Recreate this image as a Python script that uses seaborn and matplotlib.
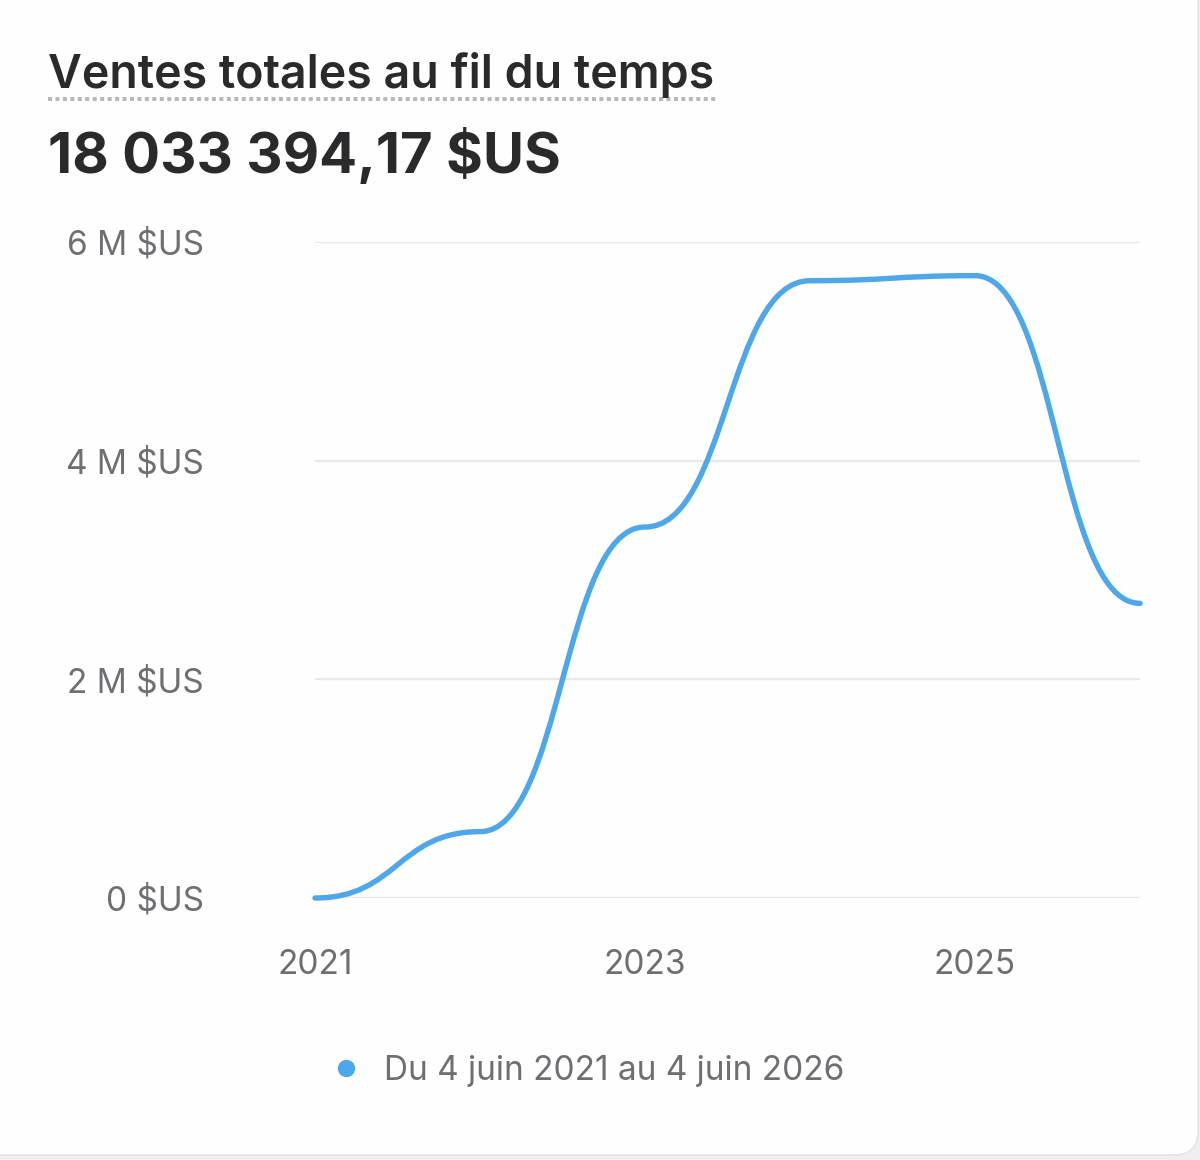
import matplotlib
matplotlib.use("Agg")
import matplotlib.pyplot as plt
import seaborn as sns
from matplotlib.path import Path
from matplotlib.patches import PathPatch, FancyBboxPatch
from matplotlib.lines import Line2D
from matplotlib.ticker import FuncFormatter

# Data (yearly totals, USD)
years = [2021, 2022, 2023, 2024, 2025, 2026]
sales = [0, 607_000, 3_393_000, 5_646_000, 5_692_000, 2_695_000]
x_ticks = [2021, 2023, 2025]
y_ticks = [0, 2_000_000, 4_000_000, 6_000_000]
title = "Ventes totales au fil du temps"
total_label = "18 033 394,17 $US"
legend_label = "Du 4 juin 2021 au 4 juin 2026"

LINE_COLOR = "#4ea7e9"
TEXT_DARK = "#2a2a2c"
TEXT_GREY = "#6e6e73"
GRID = "#e9e9ec"
LABEL_SIZE = 24

sns.set_theme(style="white")
plt.rcParams["font.family"] = ["Inter", "DejaVu Sans"]

W, H = 1200, 1160
fig = plt.figure(figsize=(W / 100, H / 100), dpi=100)
fig.patch.set_facecolor("#efeff1")

# white card behind everything
card = FancyBboxPatch((-40 / W, 1 - 1155 / H), (1198 + 40) / W, (1155 + 40) / H,
                      boxstyle="round,pad=0,rounding_size=0.02",
                      transform=fig.transFigure, facecolor="#fefefe",
                      edgecolor="#e4e4e6", lw=1.2, zorder=-5)
fig.patches.append(card)

ax = fig.add_axes([315 / W, 1 - 898 / H, 825 / W, (898 - 242) / H])
ax.set_facecolor("none")
ax.set_zorder(2)

# smooth "bump" curve: horizontal tangent at every data point
verts = [(years[0], sales[0])]
codes = [Path.MOVETO]
for x0, y0, x1, y1 in zip(years[:-1], sales[:-1], years[1:], sales[1:]):
    xm = (x0 + x1) / 2
    verts += [(xm, y0), (xm, y1), (x1, y1)]
    codes += [Path.CURVE4] * 3
curve = PathPatch(Path(verts, codes), fill=False, edgecolor=LINE_COLOR, lw=3.9,
                  capstyle="round", joinstyle="round", clip_on=False, zorder=3)
ax.add_patch(curve)

ax.set_xlim(years[0], years[-1])
ax.set_ylim(0, 6_000_000)
ax.set_xticks(x_ticks)
ax.set_xticklabels([str(y) for y in x_ticks])
ax.set_yticks(y_ticks)
ax.yaxis.set_major_formatter(FuncFormatter(
    lambda v, _: "0 $US" if v == 0 else f"{int(v / 1e6)} M $US"))
ax.yaxis.grid(True, color=GRID, lw=1.7)
ax.xaxis.grid(False)
ax.set_axisbelow(True)
sns.despine(ax=ax, left=True, bottom=True)
ax.tick_params(axis="y", length=0, pad=80, labelsize=LABEL_SIZE, labelcolor=TEXT_GREY)
ax.tick_params(axis="x", length=0, pad=37, labelsize=LABEL_SIZE, labelcolor=TEXT_GREY)

# header
fig.text(48 / W, 1 - 88 / H, title, fontsize=33.5, fontweight="semibold",
         color=TEXT_DARK, ha="left", va="baseline")
fig.add_artist(Line2D([48 / W, 716 / W], [1 - 99 / H, 1 - 99 / H],
                      transform=fig.transFigure, color="#b8b8bc", lw=2.9,
                      linestyle=(0, (1, 0.85)), solid_capstyle="butt",
                      dash_capstyle="butt"))
fig.text(48 / W, 1 - 173 / H, total_label, fontsize=40.5, fontweight="bold",
         color=TEXT_DARK, ha="left", va="baseline")

# legend
handle = Line2D([], [], marker="o", linestyle="", markersize=11.5,
                markerfacecolor=LINE_COLOR, markeredgecolor=LINE_COLOR)
leg = fig.legend([handle], [legend_label], loc="center",
                 bbox_to_anchor=(587 / W, 1 - 1071 / H), frameon=False,
                 fontsize=LABEL_SIZE, handletextpad=0.65, handlelength=1.0)
for t in leg.get_texts():
    t.set_color(TEXT_GREY)

fig.savefig("out.png", dpi=100, facecolor=fig.get_facecolor())
